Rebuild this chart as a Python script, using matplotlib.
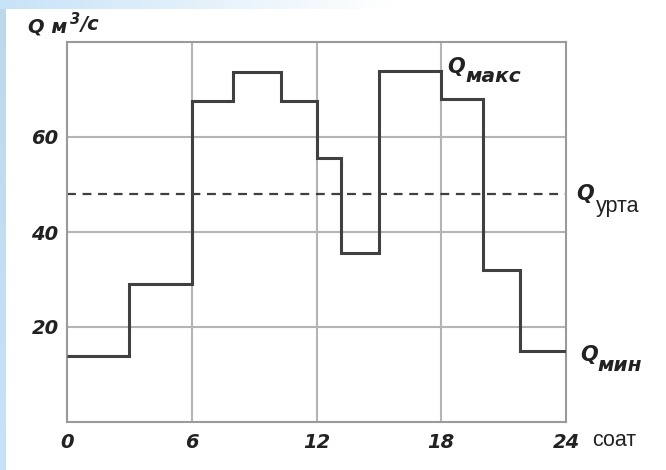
import numpy as np
import matplotlib
matplotlib.use("Agg")
import matplotlib.pyplot as plt

# ---- data ----
hour_edges = [0, 3, 6, 8, 10.3, 12, 13.2, 15, 18, 20, 21.8, 24]
flow_values = [14, 29, 67.5, 73.7, 67.5, 55.5, 35.5, 74, 68, 32, 15]
mean_flow = 48
x_ticks = [0, 6, 12, 18, 24]
y_ticks = [20, 40, 60]

W, H = 666, 470
fig = plt.figure(figsize=(W / 100, H / 100), dpi=100)
fig.patch.set_facecolor("white")

# background decoration (light blue strips)
bg = fig.add_axes([0, 0, 1, 1], zorder=-10)
img = np.ones((H, W, 3))
blue = np.array([0.78, 0.89, 0.97])
for yy in range(H):
    img[yy, :6] = blue * (0.95 + 0.05 * yy / H)
for xx in range(W):
    t = min(1.0, xx / 390.0)
    img[:9, xx] = blue * (1 - t) + np.array([1, 1, 1]) * t
bg.imshow(img, aspect="auto", extent=[0, W, H, 0])
bg.axis("off")

ax = fig.add_axes([67 / W, 1 - 422 / H, (566 - 67) / W, (422 - 42) / H])
ax.set_xlim(0, 24)
ax.set_ylim(0, 80)

grid_c = "#b4b4b4"
for x in x_ticks[1:-1]:
    ax.axvline(x, color=grid_c, lw=1.5, zorder=1)
for y in y_ticks:
    ax.axhline(y, color=grid_c, lw=1.5, zorder=1)

ax.stairs(flow_values, hour_edges, color="#404040", lw=2.2, zorder=3, baseline=None)
ax.axhline(mean_flow, color="#404040", lw=1.6, ls=(0, (4, 3)), zorder=2)

for s in ax.spines.values():
    s.set_color("#9a9a9a")
    s.set_linewidth(1.5)

TXT = "#222222"
ital = dict(family="DejaVu Sans", style="oblique", weight="bold", color=TXT)

ax.set_xticks(x_ticks)
ax.set_yticks(y_ticks)
ax.tick_params(axis="x", length=0, pad=8)
ax.tick_params(axis="y", length=0, pad=6)
ax.set_xticklabels([str(v) for v in x_ticks], size=14, **ital)
ax.set_yticklabels([str(v) for v in y_ticks], size=14, **ital)

# y axis label  "Q м³/с"
t1 = fig.text(28 / W, 1 - 27 / H, "Q м", size=14, va="center", ha="left", **ital)
a2 = ax.annotate("3", xy=(1, 1), xycoords=t1, xytext=(3, -10), textcoords="offset pixels",
                 va="bottom", ha="left", size=10.5, annotation_clip=False, **ital)
ax.annotate("/с", xy=(1, 0), xycoords=a2, xytext=(0, -6), textcoords="offset pixels",
            va="bottom", ha="left", size=14, annotation_clip=False, **ital)

# x axis unit
ax.annotate("соат", xy=(24, 0), xytext=(26, -19), textcoords="offset pixels",
            va="center", ha="left", size=15.5, family="Liberation Sans", color=TXT,
            annotation_clip=False)

def q_label(x, y, dx, dy, sub, sub_dx, sub_dy, sub_style):
    q = ax.annotate("Q", xy=(x, y), xytext=(dx, dy), textcoords="offset pixels",
                    va="center", ha="left", size=15, annotation_clip=False, **ital)
    ax.annotate(sub, xy=(1, 0), xycoords=q, xytext=(sub_dx, sub_dy),
                textcoords="offset pixels", va="baseline", ha="left",
                annotation_clip=False, **sub_style)

sub_ital = dict(size=14.5, **ital)
sub_norm = dict(size=15.5, family="Liberation Sans", color=TXT)

q_label(18, max(flow_values), 6, 4, "макс", 0, -5, sub_ital)
q_label(24, mean_flow, 10, 0, "урта", 2, -8, sub_norm)
q_label(24, flow_values[-1], 14, -4, "мин", 0, -6, sub_ital)

fig.savefig("out.png", dpi=100)
